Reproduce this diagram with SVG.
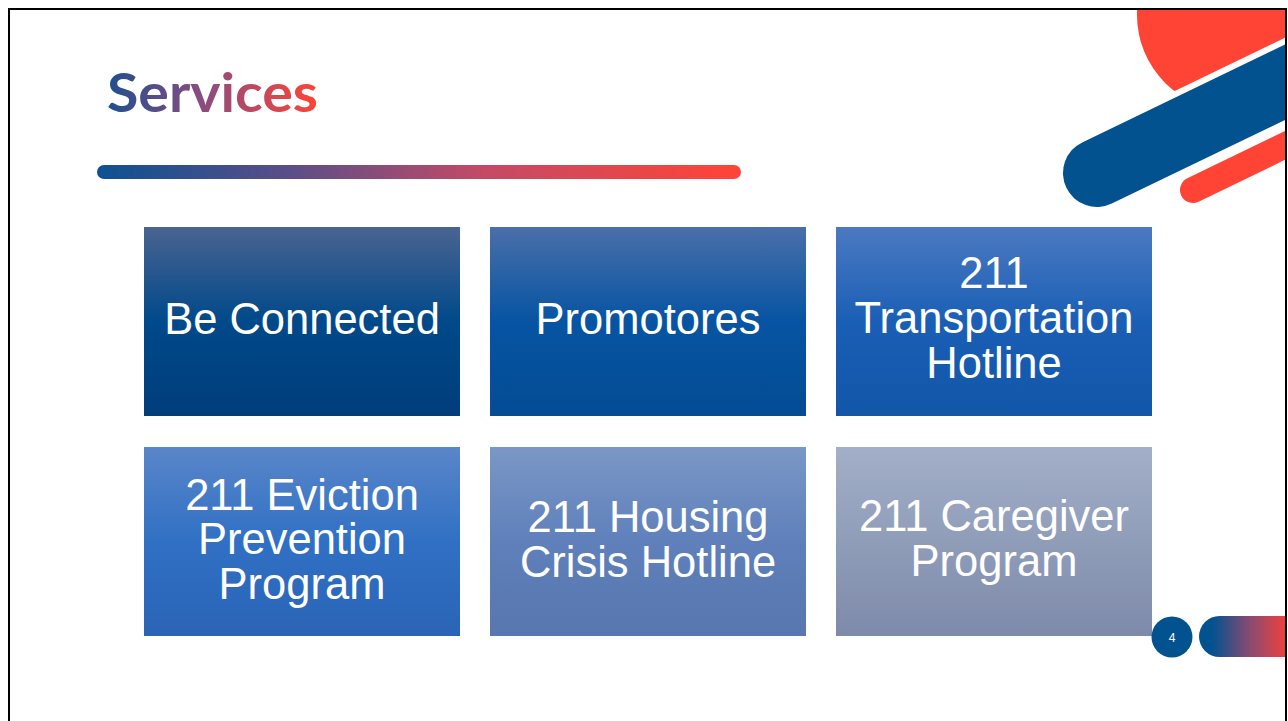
<svg xmlns="http://www.w3.org/2000/svg" width="1288" height="721" viewBox="0 0 1288 721">
  <defs>
    <linearGradient id="gTitle" gradientUnits="userSpaceOnUse" x1="107" y1="0" x2="318" y2="0">
      <stop offset="0" stop-color="#1e4f8f"/>
      <stop offset="0.45" stop-color="#8a4c80"/>
      <stop offset="1" stop-color="#ff4436"/>
    </linearGradient>
    <linearGradient id="gBar" gradientUnits="userSpaceOnUse" x1="97" y1="0" x2="741" y2="0">
      <stop offset="0" stop-color="#0d5191"/>
      <stop offset="0.3" stop-color="#5a4e88"/>
      <stop offset="0.6" stop-color="#c44a66"/>
      <stop offset="1" stop-color="#ff4436"/>
    </linearGradient>
    <linearGradient id="gPill" gradientUnits="userSpaceOnUse" x1="1199" y1="0" x2="1286" y2="0">
      <stop offset="0.15" stop-color="#02528f"/>
      <stop offset="0.6" stop-color="#8e4a70"/>
      <stop offset="1" stop-color="#f0403c"/>
    </linearGradient>
    <linearGradient id="g1" x1="0" y1="0" x2="0" y2="1">
      <stop offset="0" stop-color="#4a6490"/>
      <stop offset="0.5" stop-color="#00498a"/>
      <stop offset="1" stop-color="#003d7b"/>
    </linearGradient>
    <linearGradient id="g2" x1="0" y1="0" x2="0" y2="1">
      <stop offset="0" stop-color="#4a6fa9"/>
      <stop offset="0.5" stop-color="#0654a3"/>
      <stop offset="1" stop-color="#044c94"/>
    </linearGradient>
    <linearGradient id="g3" x1="0" y1="0" x2="0" y2="1">
      <stop offset="0" stop-color="#4b79c1"/>
      <stop offset="0.5" stop-color="#1a5fb6"/>
      <stop offset="1" stop-color="#1256a8"/>
    </linearGradient>
    <linearGradient id="g4" x1="0" y1="0" x2="0" y2="1">
      <stop offset="0" stop-color="#5a86c9"/>
      <stop offset="0.5" stop-color="#3070c4"/>
      <stop offset="1" stop-color="#2a64b6"/>
    </linearGradient>
    <linearGradient id="g5" x1="0" y1="0" x2="0" y2="1">
      <stop offset="0" stop-color="#7b97c6"/>
      <stop offset="0.5" stop-color="#5f80bb"/>
      <stop offset="1" stop-color="#5876af"/>
    </linearGradient>
    <linearGradient id="g6" x1="0" y1="0" x2="0" y2="1">
      <stop offset="0" stop-color="#a3afc8"/>
      <stop offset="0.5" stop-color="#909db9"/>
      <stop offset="1" stop-color="#7e8aa9"/>
    </linearGradient>
    <clipPath id="frameClip">
      <rect x="10" y="10" width="1275" height="720"/>
    </clipPath>
  </defs>
  <style>
    .lbl { font-family: "Liberation Sans", Arial, sans-serif; font-size: 43.5px; fill: #ffffff; text-anchor: middle; }
  </style>
  <rect x="0" y="0" width="1288" height="721" fill="#ffffff"/>

  <g id="decor" clip-path="url(#frameClip)">
    <circle cx="1233" cy="15" r="96" fill="#ff4436"/>
    <line x1="1097" y1="173" x2="1420" y2="17" stroke="#ffffff" stroke-width="80" stroke-linecap="round"/>
    <line x1="1097" y1="173" x2="1420" y2="17" stroke="#02528f" stroke-width="68" stroke-linecap="round"/>
    <line x1="1193" y1="190" x2="1420" y2="80" stroke="#ff4436" stroke-width="26" stroke-linecap="round"/>
    <path d="M1219.5 616 H1290 V657 H1219.5 A20.5 20.5 0 0 1 1219.5 616 Z" fill="url(#gPill)"/>
  </g>

  <rect x="9" y="9" width="1277" height="730" fill="none" stroke="#000000" stroke-width="2"/>

  <g id="title">
    <text x="107" y="112" font-family="Lato, 'Open Sans', sans-serif" font-weight="700" font-size="54" textLength="211" lengthAdjust="spacingAndGlyphs" fill="url(#gTitle)">Services</text>
    <rect x="97" y="165" width="644" height="14" rx="7" fill="url(#gBar)"/>
  </g>

  <g id="node-be-connected">
    <rect x="144" y="227" width="316" height="189" fill="url(#g1)"/>
    <text class="lbl" x="302" y="334">Be Connected</text>
  </g>
  <g id="node-promotores">
    <rect x="490" y="227" width="316" height="189" fill="url(#g2)"/>
    <text class="lbl" x="648" y="334">Promotores</text>
  </g>
  <g id="node-transportation">
    <rect x="836" y="227" width="316" height="189" fill="url(#g3)"/>
    <text class="lbl" x="994" y="288">211</text>
    <text class="lbl" x="994" y="333">Transportation</text>
    <text class="lbl" x="994" y="378">Hotline</text>
  </g>
  <g id="node-eviction">
    <rect x="144" y="447" width="316" height="189" fill="url(#g4)"/>
    <text class="lbl" x="302" y="509.5">211 Eviction</text>
    <text class="lbl" x="302" y="554">Prevention</text>
    <text class="lbl" x="302" y="598.5">Program</text>
  </g>
  <g id="node-housing">
    <rect x="490" y="447" width="316" height="189" fill="url(#g5)"/>
    <text class="lbl" x="648" y="532">211 Housing</text>
    <text class="lbl" x="648" y="577">Crisis Hotline</text>
  </g>
  <g id="node-caregiver">
    <rect x="836" y="447" width="316" height="189" fill="url(#g6)"/>
    <text class="lbl" x="994" y="531">211 Caregiver</text>
    <text class="lbl" x="994" y="576">Program</text>
  </g>

  <g id="page-number">
    <circle cx="1172" cy="637" r="20.5" fill="#02528f"/>
    <text x="1172" y="641.5" font-family="'Liberation Sans', Arial, sans-serif" font-size="12" fill="#ffffff" text-anchor="middle">4</text>
  </g>

  <g id="connectors"></g>
</svg>
